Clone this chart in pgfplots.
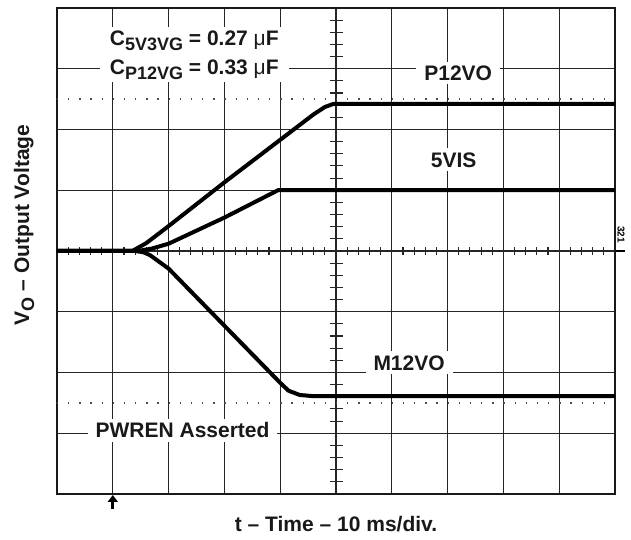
\documentclass[border=0pt]{standalone}
\usepackage{pgfplots}
\pgfplotsset{compat=1.18}
\usetikzlibrary{arrows.meta}
\usepackage{fontspec}
\setmainfont{Liberation Sans}

% scope traces (x in div, y in div)
\newcommand{\lbl}{\fontsize{21}{25}\selectfont\bfseries}
\newcommand{\sub}[1]{\raisebox{-5pt}{\fontsize{18}{18}\selectfont #1}}

\begin{document}
\begin{tikzpicture}
\begin{axis}[
  scale only axis,
  width=558pt, height=486pt,
  xmin=0, xmax=10, ymin=-4, ymax=4,
  xtick={0,...,10}, ytick={-4,...,4},
  xticklabels={}, yticklabels={},
  major tick length=0pt,
  grid=major,
  major grid style={black!85, line width=1.1pt},
  axis line style={black!90, line width=1.6pt},
  clip=false,
]
% dotted reference lines
\draw[black!70, line width=1.3pt, dash pattern=on 1.3pt off 9.86pt]
  (axis cs:0,2.5) -- (axis cs:10,2.5);
\draw[black!70, line width=1.3pt, dash pattern=on 1.3pt off 9.86pt]
  (axis cs:0,-2.5) -- (axis cs:10,-2.5);
% minor ticks on centre lines
\pgfplotsinvokeforeach{1,...,49}{
  \draw[black!85, line width=1.1pt] ([yshift=-4pt]axis cs:#1*0.2,0) -- ([yshift=4pt]axis cs:#1*0.2,0);
}
\pgfplotsinvokeforeach{1,...,39}{
  \draw[black!85, line width=1.1pt] ([xshift=-6.5pt]axis cs:5,#1*0.2-4) -- ([xshift=6.5pt]axis cs:5,#1*0.2-4);
}

% P12VO
\addplot[black, line width=4pt, line join=round] coordinates {
  (0,0) (1.35,0) (1.6,0.13) (2.0,0.41) (3.0,1.13) (4.0,1.83)
  (4.6,2.25) (4.8,2.37) (4.95,2.42) (10,2.42)
};
% 5VIS
\addplot[black, line width=4pt, line join=round] coordinates {
  (0,0) (1.45,0) (1.7,0.04) (2.0,0.12) (3.0,0.55) (3.96,1.0) (10,1.0)
};
% M12VO
\addplot[black, line width=4pt, line join=round] coordinates {
  (0,0) (1.4,0) (1.55,-0.02) (1.67,-0.07) (2.0,-0.29) (3.0,-1.23)
  (4.0,-2.17) (4.15,-2.30) (4.35,-2.37) (4.6,-2.39) (10,-2.39)
};

% labels
\node[fill=white, inner xsep=10pt, inner ysep=3pt, align=center, text=black!90,
  font=\fontsize{21}{29}\selectfont\bfseries] at (axis cs:2.46,3.23)
  {C\sub{5V3VG} = 0.27 {\mdseries μ}F\\C\sub{P12VG} = 0.33 {\mdseries μ}F};
\node[fill=white, inner xsep=8pt, inner ysep=4pt, text=black!90, font=\lbl] at (axis cs:7.19,2.93) {P12VO};
\node[fill=white, inner xsep=8pt, inner ysep=4pt, text=black!90, font=\lbl] at (axis cs:7.11,1.5) {5VIS};
\node[fill=white, inner xsep=8pt, inner ysep=4pt, text=black!90, font=\lbl] at (axis cs:6.31,-1.84) {M12VO};
\node[fill=white, inner xsep=8pt, inner ysep=4pt, text=black!90, font=\lbl] at (axis cs:2.25,-2.95) {PWREN Asserted};

% axis titles
\node[text=black!90, font=\lbl] at ([yshift=-30pt]axis cs:5,-4) {t – Time – 10 ms/div.};
\node[rotate=90, text=black!90, font=\lbl] at ([xshift=-33pt]axis cs:0,0.43) {V\sub{O} – Output Voltage};

% trigger arrow and channel marker
\draw[black, line width=3.2pt, -{Triangle[width=10pt,length=7pt]}]
  ([yshift=-15pt]axis cs:1,-4) -- ([yshift=-1pt]axis cs:1,-4);
\draw[black, line width=2.5pt] ([xshift=1pt]axis cs:10,0) -- ([xshift=10pt]axis cs:10,0);
\node[rotate=-90, font=\fontsize{10}{10}\selectfont\bfseries, inner sep=0pt] at ([xshift=6pt]axis cs:10,0.27) {321};
\end{axis}
\pgfresetboundingbox
\path ([shift={(-57pt,-46pt)}]current axis.south west) rectangle ([shift={(16pt,8pt)}]current axis.north east);
\end{tikzpicture}
\end{document}
